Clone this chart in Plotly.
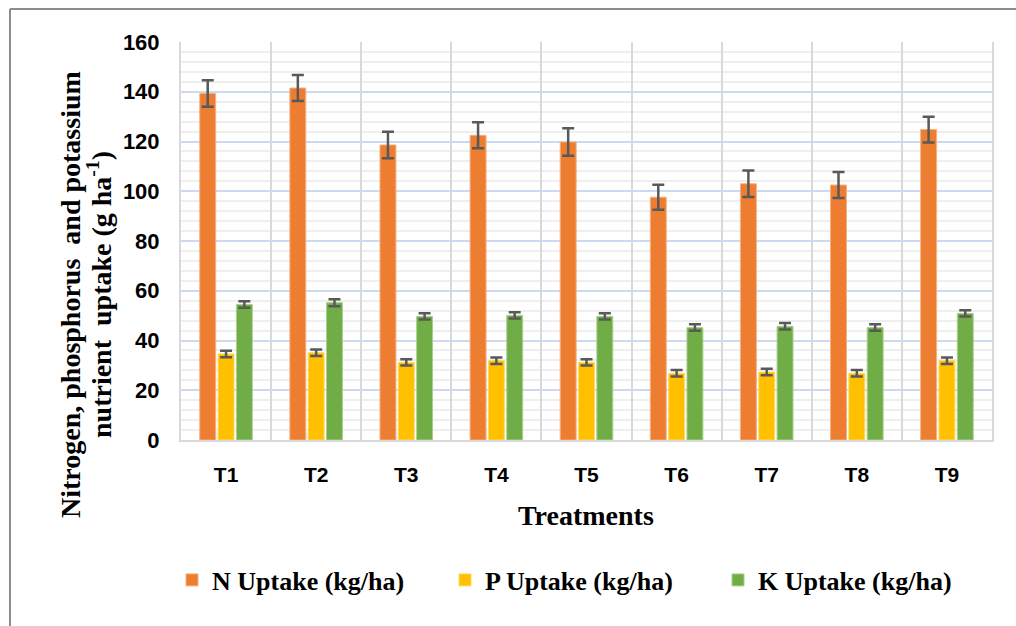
import plotly.graph_objects as go

treatments = ["T1", "T2", "T3", "T4", "T5", "T6", "T7", "T8", "T9"]
n_uptake = [139.3, 141.5, 118.6, 122.5, 119.8, 97.6, 103.0, 102.5, 124.8]
p_uptake = [34.6, 35.1, 31.2, 31.9, 31.2, 26.8, 27.3, 26.8, 31.9]
k_uptake = [54.5, 55.2, 49.7, 50.1, 49.7, 45.2, 45.7, 45.2, 50.9]
n_err = [5.3, 5.2, 5.3, 5.2, 5.5, 5.0, 5.3, 5.2, 5.2]
p_err = [1.3, 1.3, 1.3, 1.3, 1.3, 1.3, 1.3, 1.3, 1.3]
k_err = [1.3, 1.4, 1.3, 1.3, 1.3, 1.3, 1.3, 1.3, 1.3]
series_names = ["N Uptake (kg/ha)", "P Uptake (kg/ha)", "K Uptake (kg/ha)"]
colors = ["#ED7D31", "#FFC000", "#70AD47"]
edge_colors = ["#F4B183", "#FFD966", "#A9D18E"]

fig = go.Figure()
for name, vals, errs, c, ec in zip(series_names, [n_uptake, p_uptake, k_uptake],
                                   [n_err, p_err, k_err], colors, edge_colors):
    fig.add_trace(go.Bar(
        x=treatments, y=vals, name=name,
        marker=dict(color=c, line=dict(color=ec, width=1)),
        error_y=dict(type="data", array=errs, visible=True,
                     color="#595959", thickness=2.5, width=6),
    ))

W, H = 1016, 626
L, R, T, B = 181, 24, 42, 186
pw, ph = W - L - R, H - T - B

def px(x):
    return (x - L) / pw

def py(y):
    return (T + ph - y) / ph

serif = "Liberation Serif, Times New Roman, serif"
sans = "Liberation Sans, Arial, sans-serif"

fig.update_layout(
    width=W, height=H,
    margin=dict(l=L, r=R, t=T, b=B),
    paper_bgcolor="white", plot_bgcolor="white",
    barmode="group", bargap=0.39, bargroupgap=0.13,
    showlegend=True,
    legend=dict(orientation="h", x=px(172), xanchor="left", y=py(580), yanchor="middle",
                font=dict(family=serif, size=26, color="#000000", weight="bold"),
                itemwidth=30, traceorder="normal",
                entrywidth=228, entrywidthmode="pixels"),
    xaxis=dict(
        type="category", tickson="boundaries", showgrid=True,
        gridcolor="#D9D9D9", gridwidth=2,
        showline=True, linecolor="#D9D9D9", linewidth=2,
        ticks="", ticklabelstandoff=15,
        tickfont=dict(family=sans, size=21, color="#000000", weight="bold"),
    ),
    yaxis=dict(
        range=[0, 160], dtick=20, tick0=0,
        showgrid=True, gridcolor="#CCD9F0", gridwidth=2,
        minor=dict(dtick=4, showgrid=True, gridcolor="#EFEFEF", gridwidth=2),
        showline=True, mirror=True, linecolor="#D9D9D9", linewidth=2,
        zeroline=False, ticks="", ticklabelstandoff=15,
        tickfont=dict(family=sans, size=22, color="#000000", weight="bold"),
    ),
    annotations=[
        dict(text="Nitrogen, phosphorus \u00a0and potassium", textangle=-90,
             x=px(70), y=py(295), xref="paper", yref="paper",
             xanchor="center", yanchor="middle", showarrow=False,
             font=dict(family=serif, size=28, color="#000000", weight="bold")),
        dict(text="nutrient \u00a0uptake (g ha<sup>-1</sup>)", textangle=-90,
             x=px(99), y=py(295), xref="paper", yref="paper",
             xanchor="center", yanchor="middle", showarrow=False,
             font=dict(family=serif, size=28, color="#000000", weight="bold")),
        dict(text="Treatments", x=px(586), y=py(515), xref="paper", yref="paper",
             xanchor="center", yanchor="middle", showarrow=False,
             font=dict(family=serif, size=28, color="#000000", weight="bold")),
    ],
    shapes=[
        dict(type="line", xref="paper", yref="paper",
             x0=px(10), x1=px(10), y0=py(640), y1=py(9),
             line=dict(color="#8C8C8C", width=2)),
        dict(type="line", xref="paper", yref="paper",
             x0=px(10), x1=px(1030), y0=py(9), y1=py(9),
             line=dict(color="#8C8C8C", width=2)),
    ],
)

fig.write_html(
    "out.html",
    config={"displayModeBar": False},
    post_script="document.documentElement.style.overflow='hidden';"
                "document.body.style.margin='0';document.body.style.overflow='hidden';",
)
